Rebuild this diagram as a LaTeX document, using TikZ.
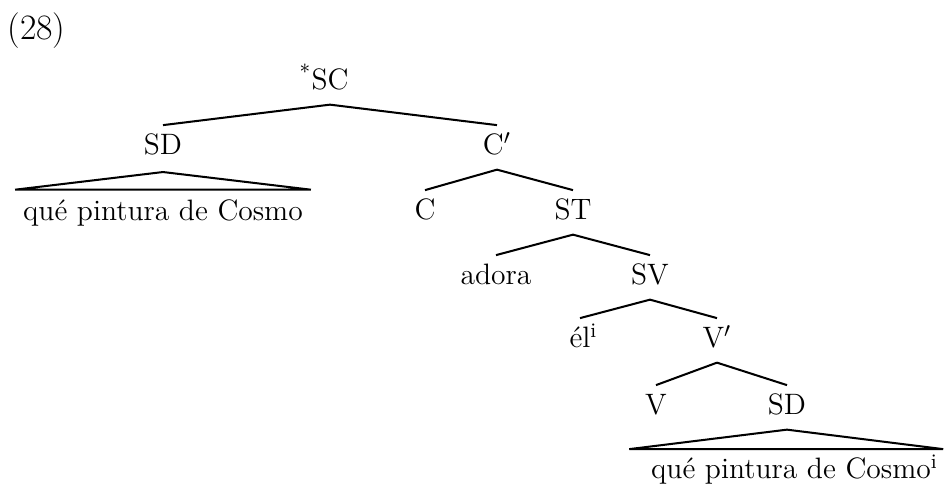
\documentclass[tikz,border=0pt]{standalone}
\usepackage{tikz}

\begin{document}
\begin{tikzpicture}[x=0.42pt,y=-0.42pt,
  cat/.style={inner sep=0pt,text height=8.3pt,text depth=0pt,font=\fontsize{12.4}{14}\selectfont},
  leaf/.style={cat},
  branch/.style={line width=0.85pt},
  roof/.style={line width=0.85pt}
]
\useasboundingbox (0,0) rectangle (945,486);

% the example number
\node[font=\fontsize{15}{17}\selectfont,inner sep=0pt,anchor=base west] (num) at (7,39) {(28)};

% the categories
\node[cat] (sc) at (330,80) {\llap{\textsuperscript{*}}SC};
\node[cat] (sd) at (163,145) {SD};
\node[cat] (cbar) at (497,145) {C$'$};
\node[cat] (c) at (425,210) {C};
\node[cat] (st) at (573,210) {ST};
\node[cat] (adora) at (496,275) {adora};
\node[cat] (sv) at (650,275) {SV};
\node[cat] (el) at (580,338) {él\rlap{\textsuperscript{i}}};
\node[cat] (vbar) at (717,338) {V$'$};
\node[cat] (v) at (656,405) {V};
\node[cat] (sdobj) at (787,405) {SD};

% the phrases under the roofs
\node[leaf] (dp) at (163,211) {qué pintura de Cosmo};
\node[leaf] (dpobj) at (791,469) {qué pintura de Cosmo\rlap{\textsuperscript{i}}};

% the branches
\foreach \p/\d in {sc/sd,sc/cbar,cbar/c,cbar/st,st/adora,st/sv,sv/el,sv/vbar,vbar/v,vbar/sdobj}
  \draw[branch] ([yshift=-6pt]\p.south) -- ([yshift=4pt]\d.north);

% the roofs
\draw[roof] ([xshift=-3.2pt,yshift=4.6pt]dp.north west) -- ([yshift=-7pt]sd.south)
  -- ([xshift=3.2pt,yshift=4.6pt]dp.north east) -- cycle;
\draw[roof] ([xshift=-9pt,yshift=4pt]dpobj.north west) -- ([yshift=-6pt]sdobj.south)
  -- ([xshift=5pt,yshift=4pt]dpobj.north east) -- cycle;
\end{tikzpicture}
\end{document}
